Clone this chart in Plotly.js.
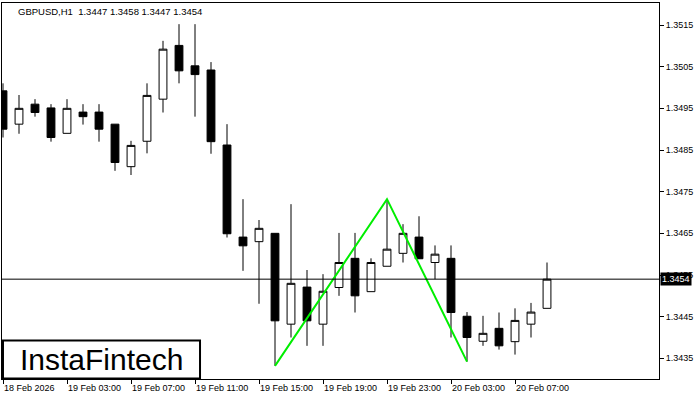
<!DOCTYPE html>
<html>
<head>
<meta charset="utf-8">
<script src="https://cdn.plot.ly/plotly-3.0.1.min.js"></script>
<style>html,body{margin:0;padding:0;background:#fff;}#chart{width:700px;height:400px;}</style>
</head>
<body>
<div id="chart"></div>
<script>
// Hourly bars, 18 Feb 2026 23:00 .. 20 Feb 2026 09:00
var barIndex = [0,1,2,3,4,5,6,7,8,9,10,11,12,13,14,15,16,17,18,19,20,21,22,23,24,25,26,27,28,29,30,31,32,33,34];
var openP  = [1.34992,1.34912,1.34960,1.34951,1.34890,1.34941,1.34941,1.34912,1.34810,1.34871,1.34972,1.35101,1.35052,1.35042,1.34862,1.34641,1.34630,1.34650,1.34432,1.34521,1.34432,1.34520,1.34590,1.34510,1.34571,1.34602,1.34641,1.34580,1.34590,1.34451,1.34391,1.34422,1.34390,1.34432,1.34470];
var highP  = [1.35010,1.34982,1.34972,1.34960,1.34972,1.34960,1.34960,1.34912,1.34872,1.35010,1.35112,1.35152,1.35152,1.35061,1.34912,1.34732,1.34682,1.34650,1.34720,1.34562,1.34552,1.34651,1.34651,1.34590,1.34732,1.34672,1.34691,1.34621,1.34621,1.34461,1.34452,1.34460,1.34470,1.34483,1.34580];
var lowP   = [1.34880,1.34889,1.34930,1.34870,1.34890,1.34911,1.34870,1.34800,1.34790,1.34842,1.34940,1.35010,1.34930,1.34841,1.34640,1.34560,1.34481,1.34332,1.34400,1.34380,1.34380,1.34500,1.34460,1.34510,1.34571,1.34580,1.34590,1.34540,1.34400,1.34342,1.34380,1.34371,1.34359,1.34400,1.34470];
var closeP = [1.34900,1.34950,1.34940,1.34880,1.34950,1.34930,1.34900,1.34820,1.34861,1.34981,1.35092,1.35040,1.35031,1.34870,1.34649,1.34620,1.34662,1.34440,1.34530,1.34440,1.34511,1.34580,1.34500,1.34580,1.34612,1.34650,1.34589,1.34600,1.34460,1.34400,1.34410,1.34380,1.34441,1.34461,1.34540];

var tickIdx    = [0,4,8,12,16,20,24,28,32];
var tickLabels = ["18 Feb 2026","19 Feb 03:00","19 Feb 07:00","19 Feb 11:00","19 Feb 15:00","19 Feb 19:00","19 Feb 23:00","20 Feb 03:00","20 Feb 07:00"];
var priceTicks = [1.3435,1.3445,1.3455,1.3465,1.3475,1.3485,1.3495,1.3505,1.3515];

// Double bottom pattern: bottom 1, neck peak, bottom 2 (bar indices)
var patternIdx = [17,24,29];
var patternY = [lowP[17], highP[24], lowP[29]];

var symbolTitle = "GBPUSD,H1  1.3447 1.3458 1.3447 1.3454";
var lastIdx = closeP.length - 1;
var lastClose = closeP[lastIdx];

var FONT = "Liberation Sans, Arial, sans-serif";

var traces = [
  {
    type: "candlestick",
    x: barIndex, open: openP, high: highP, low: lowP, close: closeP,
    increasing: {line: {color: "#000", width: 1}, fillcolor: "#fff"},
    decreasing: {line: {color: "#000", width: 1}, fillcolor: "#000"},
    whiskerwidth: 0,
    hoverinfo: "skip",
    showlegend: false
  },
  {
    type: "scatter", mode: "lines",
    x: patternIdx, y: patternY,
    line: {color: "#00ee00", width: 2},
    hoverinfo: "skip", showlegend: false
  }
];

var layout = {
  width: 700, height: 400,
  margin: {l: 2, r: 41, t: 3, b: 21, pad: 0},
  paper_bgcolor: "#fff", plot_bgcolor: "#fff",
  showlegend: false,
  xaxis: {
    type: "linear",
    range: [-0.0625, 41],
    rangeslider: {visible: false},
    showgrid: false, zeroline: false,
    showline: true, mirror: true, linecolor: "#000", linewidth: 1,
    ticks: "outside", ticklen: 4, tickcolor: "#000", tickwidth: 1,
    tickvals: tickIdx, ticktext: tickLabels,
    ticklabelposition: "outside right",
    tickfont: {family: FONT, size: 9, color: "#000"},
    fixedrange: true
  },
  yaxis: {
    side: "right",
    range: [1.343004, 1.352028],
    showgrid: false, zeroline: false,
    showline: true, mirror: true, linecolor: "#000", linewidth: 1,
    ticks: "outside", ticklen: 4, tickcolor: "#000", tickwidth: 1,
    tickvals: priceTicks, tickformat: ".4f",
    tickfont: {family: FONT, size: 9, color: "#000"},
    fixedrange: true
  },
  shapes: [
    {type: "line", xref: "paper", yref: "y", x0: 0, x1: 1, y0: lastClose, y1: lastClose,
     line: {color: "#000", width: 1}},
    {type: "rect", xref: "paper", yref: "paper", x0: 0.0015, x1: 0.3014, y0: 0.0015, y1: 0.1024,
     fillcolor: "#fff", line: {color: "#000", width: 2}, layer: "above"}
  ],
  annotations: [
    {xref: "paper", yref: "paper", x: 0.021, y: 1, xanchor: "left", yanchor: "top", yshift: -1,
     text: symbolTitle, showarrow: false, font: {family: FONT, size: 9.5, color: "#000"}},
    {xref: "paper", yref: "y", x: 1, y: lastClose, xanchor: "left", yanchor: "middle", xshift: 1,
     text: lastClose.toFixed(4), showarrow: false, bgcolor: "#000", borderpad: 1,
     font: {family: FONT, size: 9, color: "#fff"}},
    {xref: "paper", yref: "paper", x: 0.152, y: 0.052, xanchor: "center", yanchor: "middle",
     text: "InstaFintech", showarrow: false, font: {family: FONT, size: 30, color: "#000"}}
  ]
};

Plotly.newPlot("chart", traces, layout, {staticPlot: true, displayModeBar: false});
</script>
</body>
</html>
